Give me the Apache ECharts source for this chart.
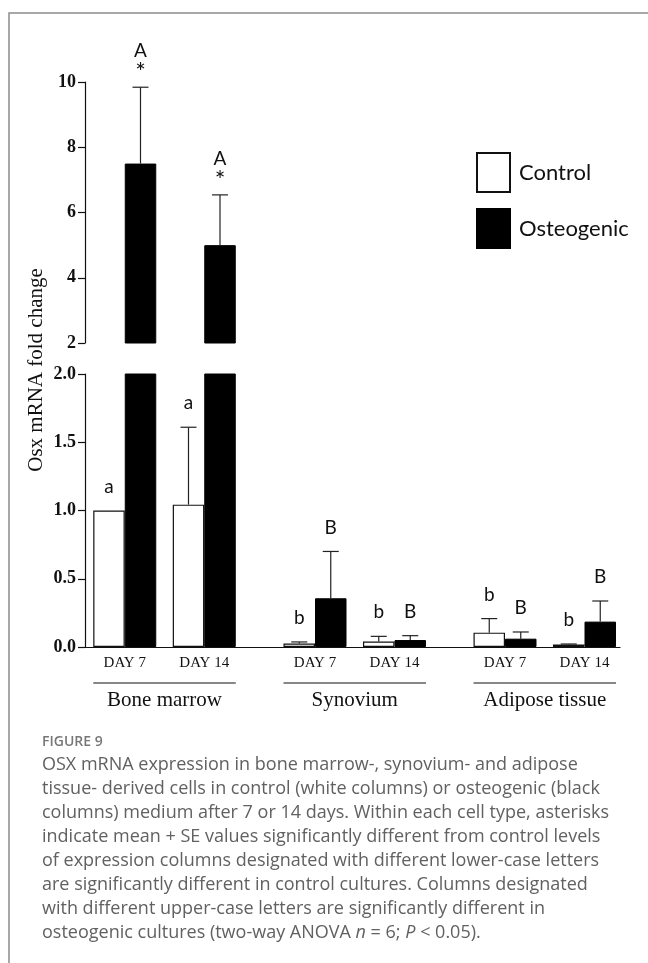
<!DOCTYPE html>
<html><head><meta charset="utf-8">
<script src="https://cdn.jsdelivr.net/npm/echarts@6/dist/echarts.min.js"></script>
<style>html,body{margin:0;padding:0;background:#fff;}#c{width:648px;height:963px;}</style>
</head><body><div id="c"></div>
<script>
// ---------- data ----------
const days = ['DAY 7', 'DAY 14'];
const tissues = ['Bone marrow', 'Synovium', 'Adipose tissue'];
// index = tissue*2 + day
const controlMean = [1.00, 1.043, 0.025, 0.040, 0.105, 0.018];
const controlSE   = [0.00, 0.567, 0.012, 0.038, 0.103, 0.004];
const osteoMean   = [7.50, 5.00, 0.357, 0.051, 0.061, 0.186];
const osteoSE     = [2.34, 1.54, 0.343, 0.032, 0.049, 0.151];
const controlLetters = ['a', 'a', 'b', 'b', 'b', 'b'];
const osteoLetters   = ['A', 'A', 'B', 'B', 'B', 'B'];
const osteoStars     = ['*', '*', '', '', '', ''];
const upperAxis = { min: 2, max: 10, interval: 2 };
const lowerAxis = { min: 0, max: 2, interval: 0.5 };
const legendNames = ['Control', 'Osteogenic'];
const yTitle = 'Osx mRNA fold change';
const figureLabel = 'FIGURE 9';
const captionLines = [
  'OSX mRNA expression in bone marrow-, synovium- and adipose',
  'tissue- derived cells in control (white columns) or osteogenic (black',
  'columns) medium after 7 or 14 days. Within each cell type, asterisks',
  'indicate mean + SE values significantly different from control levels',
  'of expression columns designated with different lower-case letters',
  'are significantly different in control cultures. Columns designated',
  'with different upper-case letters are significantly different in',
  'osteogenic cultures (two-way ANOVA {i|n} = 6; {i|P} < 0.05).'
];

// ---------- layout ----------
const BAR_W = 31.5;
const SERIF = '"Liberation Serif", "Times New Roman", serif';
const SANS = 'Lato, "Open Sans", sans-serif';
const gridW = 159;
const lowerLefts = [85, 275.25, 465.25];
const grids = [
  { left: 85, top: 82, width: gridW, height: 261 },
  { left: lowerLefts[0], top: 374, width: gridW, height: 273 },
  { left: lowerLefts[1], top: 374, width: gridW, height: 273 },
  { left: lowerLefts[2], top: 374, width: gridW, height: 273 },
  { left: 85, top: 374, width: 535, height: 273 }
];
const panelTissue = [0, 0, 1, 2];

const xAxes = [], yAxes = [], series = [];
for (let g = 0; g < 4; g++) {
  xAxes.push({
    type: 'category', gridIndex: g, data: days,
    axisLine: { show: false }, axisTick: { show: false },
    axisLabel: g === 0 ? { show: false } : {
      show: true, margin: 9, color: '#111',
      fontFamily: SERIF, fontSize: 15
    }
  });
  const isUpper = g === 0;
  const ax = isUpper ? upperAxis : lowerAxis;
  const showY = g <= 1;
  yAxes.push({
    type: 'value', gridIndex: g, min: ax.min, max: ax.max, interval: ax.interval,
    show: showY,
    axisLine: { show: true, lineStyle: { color: '#111', width: 1.2 } },
    axisTick: { show: true, inside: false, length: 7, lineStyle: { color: '#111', width: 1.2 } },
    axisLabel: {
      show: true, margin: 9, color: '#111', fontFamily: SERIF,
      fontWeight: 'bold', fontSize: 18,
      formatter: isUpper ? (v => String(v)) : (v => v.toFixed(1))
    },
    splitLine: { show: false }
  });
  const t = panelTissue[g];
  const idx = [t * 2, t * 2 + 1];
  const inPanel = v => isUpper ? (v > upperAxis.min ? v : '-') : v;
  series.push({
    name: legendNames[0], type: 'bar', xAxisIndex: g, yAxisIndex: g,
    barWidth: BAR_W, barGap: '0%', clip: true,
    itemStyle: { color: '#fff', borderColor: '#111', borderWidth: 1.2 },
    data: idx.map(i => inPanel(controlMean[i])), z: 2
  });
  series.push({
    name: legendNames[1], type: 'bar', xAxisIndex: g, yAxisIndex: g,
    barWidth: BAR_W, barGap: '0%', clip: true,
    itemStyle: { color: '#000', borderColor: '#000', borderWidth: 1 },
    data: idx.map(i => inPanel(osteoMean[i])), z: 2
  });
  const errData = [];
  idx.forEach((i, d) => {
    const belongs = v => isUpper ? v > lowerAxis.max : v <= lowerAxis.max;
    if (belongs(controlMean[i])) errData.push([d, controlMean[i], controlSE[i], i, -1]);
    if (belongs(osteoMean[i])) errData.push([d, osteoMean[i], osteoSE[i], i, 1]);
  });
  series.push({
    type: 'custom', name: 'err' + g, xAxisIndex: g, yAxisIndex: g, clip: false, z: 3,
    data: errData,
    renderItem: function (params, api) {
      const d = api.value(0), mean = api.value(1), se = api.value(2);
      const i = api.value(3), sign = api.value(4);
      const topP = api.coord([d, mean + se]);
      const baseP = api.coord([d, mean]);
      const xc = topP[0] + sign * BAR_W / 2;
      const children = [];
      const ls = { stroke: '#222', lineWidth: 1.2 };
      if (se > 0) {
        children.push({ type: 'line', shape: { x1: xc, y1: baseP[1], x2: xc, y2: topP[1] }, style: ls });
        children.push({ type: 'line', shape: { x1: xc - 8, y1: topP[1], x2: xc + 8, y2: topP[1] }, style: ls });
      }
      const letter = sign < 0 ? controlLetters[i] : osteoLetters[i];
      const star = sign < 0 ? '' : osteoStars[i];
      const ts = { fontFamily: SANS, fontSize: 19, fill: '#111', align: 'center', verticalAlign: 'middle' };
      if (star) {
        children.push({ type: 'text', x: xc, y: topP[1] - 14, style: Object.assign({}, ts, { text: star, fontSize: 25 }) });
        children.push({ type: 'text', x: xc, y: topP[1] - 36, style: Object.assign({}, ts, { text: letter }) });
      } else {
        children.push({ type: 'text', x: xc, y: topP[1] - 24, style: Object.assign({}, ts, { text: letter }) });
      }
      return { type: 'group', children: children };
    }
  });
}
xAxes.push({
  type: 'value', gridIndex: 4, min: 0, max: 1, show: true,
  axisLine: { show: true, onZero: false, lineStyle: { color: '#111', width: 1.2 } },
  axisTick: { show: false }, axisLabel: { show: false }, splitLine: { show: false }
});
yAxes.push({ type: 'value', gridIndex: 4, min: 0, max: 1, show: false });

const option = {
  animation: false,
  backgroundColor: '#fff',
  grid: grids,
  xAxis: xAxes,
  yAxis: yAxes,
  legend: {
    data: legendNames, orient: 'vertical', left: 471, top: 147,
    icon: 'rect', itemWidth: 33, itemHeight: 39, itemGap: 15,
    textStyle: { fontFamily: SANS, fontSize: 22, color: '#111', padding: [0, 0, 0, 4] },
    selectedMode: false
  },
  series: series
};

const chart = echarts.init(document.getElementById('c'), null, { renderer: 'canvas' });
chart.setOption(option);

const graphics = [];
graphics.push({
  type: 'polyline', silent: true,
  shape: { points: [[9, 963], [9, 13], [648, 13]] },
  style: { stroke: '#8c8c8c', lineWidth: 1.5, fill: null }
});
for (let t = 0; t < 3; t++) {
  const g = t + 1;
  const c0 = chart.convertToPixel({ xAxisIndex: g }, 0);
  const c1 = chart.convertToPixel({ xAxisIndex: g }, 1);
  graphics.push({
    type: 'line', silent: true,
    shape: { x1: c0 - BAR_W, y1: 683, x2: c1 + BAR_W, y2: 683 },
    style: { stroke: '#111', lineWidth: 1.2 }
  });
  graphics.push({
    type: 'text', silent: true, x: (c0 + c1) / 2, y: 700,
    style: { text: tissues[t], fontFamily: SERIF, fontSize: 21, fill: '#111', align: 'center', verticalAlign: 'middle' }
  });
}
graphics.push({
  type: 'text', silent: true, x: 36, y: 370, rotation: Math.PI / 2,
  style: { text: yTitle, fontFamily: SERIF, fontSize: 21, fill: '#111', align: 'center', verticalAlign: 'middle' }
});
graphics.push({
  type: 'text', silent: true, x: 42, y: 742,
  style: { text: figureLabel, fontFamily: '"Open Sans", sans-serif', fontSize: 14, fontWeight: 600, fill: '#777', align: 'left', verticalAlign: 'middle' }
});
graphics.push({
  type: 'text', silent: true, x: 42, y: 753,
  style: {
    text: captionLines.join('\n'), fontFamily: '"Open Sans", sans-serif', fontSize: 18,
    lineHeight: 24, fill: '#616161', align: 'left', verticalAlign: 'top',
    rich: { i: { fontStyle: 'italic', fontFamily: '"Open Sans", sans-serif', fontSize: 18, lineHeight: 24, fill: '#616161' } }
  }
});
chart.setOption({ graphic: graphics });
</script>
</body></html>
